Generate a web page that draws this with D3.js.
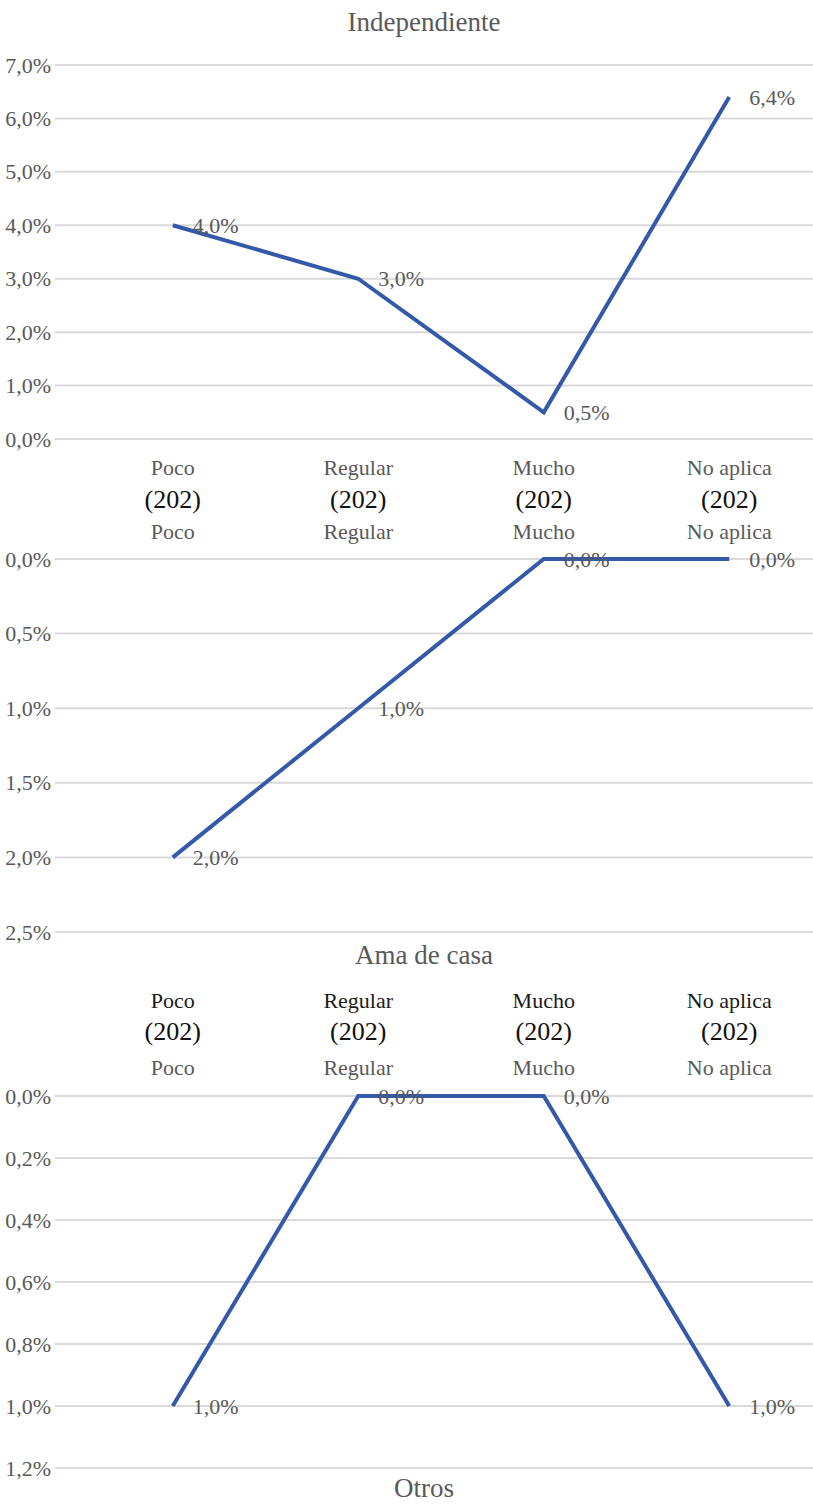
<!DOCTYPE html>
<html>
<head>
<meta charset="utf-8">
<script src="https://cdn.jsdelivr.net/npm/d3@7"></script>
<style>
  html, body { margin: 0; padding: 0; background: #fff; }
  svg { display: block; font-family: "Liberation Serif", "Times New Roman", serif; }
</style>
</head>
<body>
<svg id="chart" width="813" height="1504"></svg>
<script>
// Categories and sample sizes shared by the three panels
const categories = ["Poco", "Regular", "Mucho", "No aplica"];
const sampleSizes = [202, 202, 202, 202];

// Percentages per panel
const independienteValues = [4.0, 3.0, 0.5, 6.4];
const amaDeCasaValues = [2.0, 1.0, 0.0, 0.0];
const otrosValues = [1.0, 0.0, 0.0, 1.0];

// Tick values per panel
const independienteTicks = [0, 1, 2, 3, 4, 5, 6, 7];
const amaDeCasaTicks = [0, 0.5, 1.0, 1.5, 2.0, 2.5];
const otrosTicks = [0, 0.2, 0.4, 0.6, 0.8, 1.0, 1.2];

const svg = d3.select("#chart");
const pct = v => d3.format(".1f")(v).replace(".", ",") + "%";

const LINE = "#3459a8";
const GRID = "#d9d9d9";
const LABEL = "#595959";

// Shared horizontal band scale
const x = d3.scaleBand().domain(categories).range([80, 822]).padding(0);
const cx = c => x(c) + x.bandwidth() / 2;
const gridX0 = 55, gridX1 = 813;

function drawPanel(values, ticks, yDomain, yRange) {
  const y = d3.scaleLinear().domain(yDomain).range(yRange);
  const g = svg.append("g");

  // horizontal gridlines
  g.selectAll("line.grid").data(ticks).join("line")
    .attr("x1", gridX0).attr("x2", gridX1)
    .attr("y1", d => y(d)).attr("y2", d => y(d))
    .attr("stroke", GRID).attr("stroke-width", 2);

  // value axis labels
  const axis = d3.axisLeft(y).tickValues(ticks).tickFormat(pct).tickSize(0).tickPadding(0);
  const ga = g.append("g").attr("transform", "translate(51,0)").call(axis);
  ga.select(".domain").remove();
  ga.selectAll("text")
    .attr("fill", LABEL)
    .style("font-size", "22px")
    .style("font-family", "Liberation Serif, serif");

  // series line
  const line = d3.line().x((d, i) => cx(categories[i])).y(d => y(d));
  g.append("path").datum(values)
    .attr("d", line)
    .attr("fill", "none")
    .attr("stroke", LINE)
    .attr("stroke-width", 4)
    .attr("stroke-linejoin", "miter");

  // data labels
  g.selectAll("text.val").data(values).join("text")
    .attr("x", (d, i) => cx(categories[i]) + 20)
    .attr("y", d => y(d))
    .attr("dy", "0.35em")
    .attr("fill", LABEL)
    .style("font-size", "22px")
    .text(d => pct(d));
}

function title(text, yPos) {
  svg.append("text")
    .attr("x", 424).attr("y", yPos).attr("dy", "0.35em")
    .attr("text-anchor", "middle")
    .attr("fill", LABEL)
    .style("font-size", "27px")
    .text(text);
}

function labelRow(texts, yPos, size, color) {
  svg.append("g").selectAll("text").data(texts).join("text")
    .attr("x", (d, i) => cx(categories[i]))
    .attr("y", yPos).attr("dy", "0.35em")
    .attr("text-anchor", "middle")
    .attr("fill", color)
    .style("font-size", size + "px")
    .text(d => d);
}

const counts = sampleSizes.map(n => "(" + n + ")");

// Independiente
title("Independiente", 22);
drawPanel(independienteValues, independienteTicks, [0, 7], [439, 65]);
labelRow(categories, 467, 22, LABEL);
labelRow(counts, 499, 26, "#111");

// Ama de casa (reversed value axis, categories on top)
labelRow(categories, 531, 22, LABEL);
drawPanel(amaDeCasaValues, amaDeCasaTicks, [0, 2.5], [559, 932]);
title("Ama de casa", 955);

// Otros (reversed value axis, categories on top)
labelRow(categories, 1000, 22, "#1a1a1a");
labelRow(counts, 1031, 26, "#111");
labelRow(categories, 1067, 22, LABEL);
drawPanel(otrosValues, otrosTicks, [0, 1.2], [1096, 1468]);
title("Otros", 1488);
</script>
</body>
</html>
